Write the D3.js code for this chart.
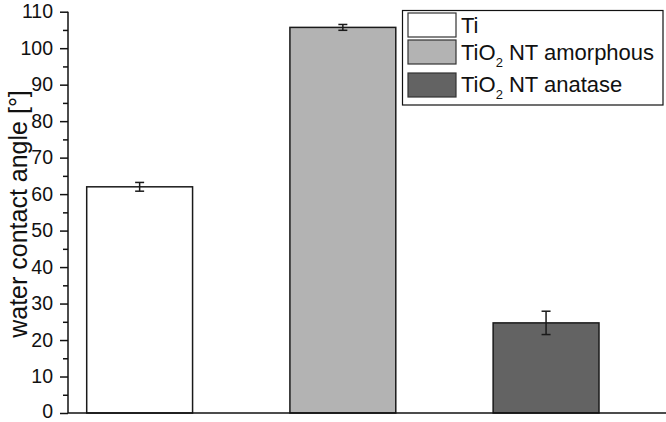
<!DOCTYPE html>
<html><head><meta charset="utf-8">
<script src="https://cdn.jsdelivr.net/npm/d3@7"></script>
<style>body{margin:0;background:#fff}svg{display:block}text{font-family:"Liberation Sans",Arial,sans-serif;fill:#111}</style>
</head><body>
<svg id="c" width="666" height="422"></svg>
<script>
const categories = ["Ti", "TiO2 NT amorphous", "TiO2 NT anatase"];
const values = [62.0, 105.7, 24.7];
const errors = [1.2, 0.8, 3.2];
const colors = ["#ffffff", "#b3b3b3", "#636363"];
const yTicks = [0,10,20,30,40,50,60,70,80,90,100,110];
const yMinorTicks = [5,15,25,35,45,55,65,75,85,95,105];
const legendLabels = [{main:"Ti", sub:"", rest:""},{main:"TiO", sub:"2", rest:" NT amorphous"},{main:"TiO", sub:"2", rest:" NT anatase"}];

const svg = d3.select("#c");
const y = d3.scaleLinear().domain([0,110]).range([413,11.7]);
const x = d3.scaleBand().domain(categories).range([86.7,599]).paddingInner(0.479).paddingOuter(0);
const axisX = 68;

// bars
svg.selectAll("rect.bar").data(categories).enter().append("rect")
  .attr("class","bar")
  .attr("x", d=>x(d)).attr("width", x.bandwidth())
  .attr("y", (d,i)=>y(values[i])).attr("height",(d,i)=>y(0)-y(values[i]))
  .attr("fill",(d,i)=>colors[i]).attr("stroke","#1a1a1a").attr("stroke-width",1.5);

// error bars
const eg = svg.append("g").attr("stroke","#1a1a1a").attr("stroke-width",1.5);
categories.forEach((c,i)=>{
  const cx = x(c)+x.bandwidth()/2;
  const t = y(values[i]+errors[i]), b = y(values[i]-errors[i]);
  eg.append("line").attr("x1",cx).attr("x2",cx).attr("y1",t).attr("y2",b);
  eg.append("line").attr("x1",cx-4.5).attr("x2",cx+4.5).attr("y1",t).attr("y2",t);
  eg.append("line").attr("x1",cx-4.5).attr("x2",cx+4.5).attr("y1",b).attr("y2",b);
});

// y axis
const yAxis = d3.axisLeft(y).tickValues(yTicks).tickSize(8).tickPadding(7).tickFormat(d3.format("d"));
const ga = svg.append("g").attr("transform",`translate(${axisX},0)`).call(yAxis);
ga.select(".domain").remove();
ga.selectAll("line").attr("stroke","#111").attr("stroke-width",1.5);
ga.selectAll("text").attr("font-size",19.5).style("font-family","'Liberation Sans',Arial,sans-serif").attr("fill","#111")
  .attr("dy", d => d === 0 ? "0.24em" : "0.32em");
const gm = svg.append("g").attr("transform",`translate(${axisX},0)`).call(d3.axisLeft(y).tickValues(yMinorTicks).tickSize(5).tickFormat(""));
gm.select(".domain").remove();
gm.selectAll("line").attr("stroke","#111").attr("stroke-width",1.5);
svg.append("line").attr("x1",axisX).attr("x2",axisX).attr("y1",y(110)).attr("y2",y(0)).attr("stroke","#111").attr("stroke-width",1.5);
svg.append("line").attr("x1",axisX).attr("x2",666).attr("y1",y(0)).attr("y2",y(0)).attr("stroke","#111").attr("stroke-width",1.5);

// y title
svg.append("text").attr("transform","translate(27,214) rotate(-90)").attr("text-anchor","middle")
  .attr("font-size",25).text("water contact angle [°]");

// legend
svg.append("rect").attr("x",402.5).attr("y",10.5).attr("width",260.5).attr("height",94.5)
  .attr("fill","#fff").attr("stroke","#111").attr("stroke-width",1.2);
const swY = [13, 40, 73];
const swH = [24, 24, 24];
const txY = [32.7, 60, 91.7];
legendLabels.forEach((l,i)=>{
  svg.append("rect").attr("x",408).attr("y",swY[i]).attr("width",48).attr("height",swH[i])
    .attr("fill",colors[i]).attr("stroke","#333").attr("stroke-width",1.2);
  const t = svg.append("text").attr("x",461).attr("y",txY[i]).attr("font-size",22);
  t.append("tspan").text(l.main);
  if(l.sub){
    t.append("tspan").attr("dy",7).attr("font-size",13).text(l.sub);
    t.append("tspan").attr("dy",-7).text(l.rest);
  }
});
</script>
</body></html>
